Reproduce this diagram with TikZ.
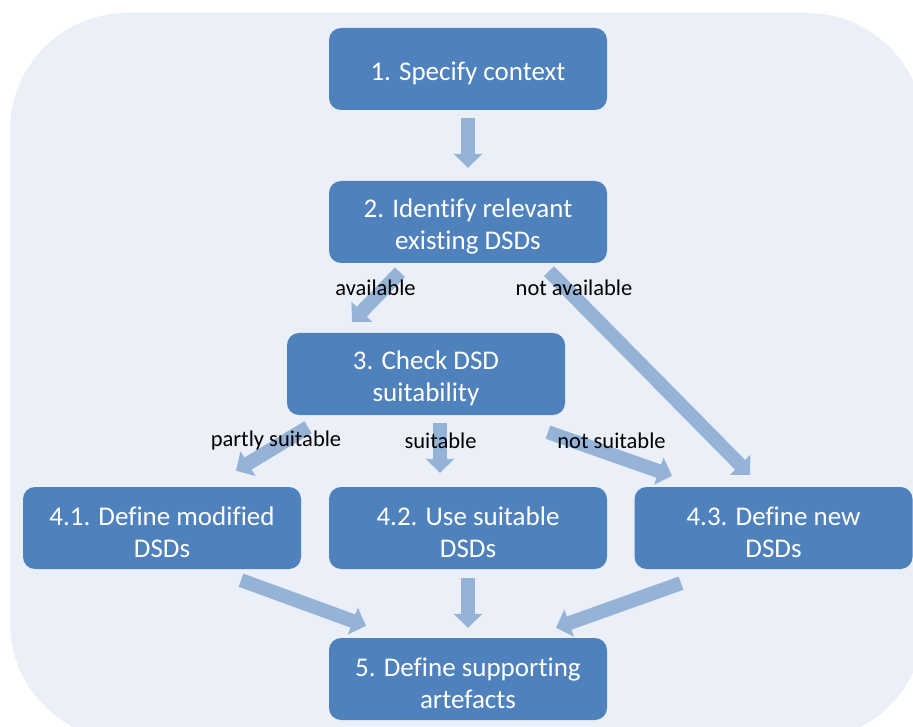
\documentclass[tikz,border=0pt]{standalone}
\usepackage{fontspec}
\setmainfont{Carlito}[Ligatures={NoCommon,NoContextual}, RawFeature={-liga;-clig}]
\usetikzlibrary{arrows.meta,calc}
\definecolor{boxblue}{HTML}{4F81BD}
\definecolor{arrowblue}{HTML}{95B3D7}
\definecolor{bgblue}{HTML}{EBF0F8}
\newcommand{\toppad}{\rule{0pt}{27pt}}
\tikzset{
  stepbox/.style={rectangle, rounded corners=12pt, fill=boxblue, text=white,
    minimum width=278pt, minimum height=82pt, align=center, inner sep=0pt,
    font=\fontsize{27}{32}\selectfont},
  flow/.style={draw=arrowblue, line width=14pt,
    -{Triangle[width=28pt,length=14pt]}, arrowblue},
  lbl/.style={font=\fontsize{22.5}{26}\selectfont, text=black, inner sep=0pt}
}
\begin{document}
\begin{tikzpicture}[x=1pt,y=-1pt]
\useasboundingbox (0,0) rectangle (913,727);
\clip (0,0) rectangle (913,727);
\fill[bgblue, rounded corners=117pt] (10,13) rectangle (924,740);
\node[stepbox] (n1) at (468,69) {\toppad 1. Specify context};
\node[stepbox] (n2) at (468,222) {\toppad 2. Identify relevant\\existing DSDs};
\node[stepbox] (n3) at (426,374) {\toppad 3. Check DSD\\suitability};
\node[stepbox] (n41) at (162,528) {\toppad 4.1. Define modified\\DSDs};
\node[stepbox] (n42) at (468,528) {\toppad 4.2. Use suitable\\DSDs};
\node[stepbox] (n43) at (773.5,528) {\toppad 4.3. Define new\\DSDs};
\node[stepbox] (n5) at (468,679) {\toppad 5. Define supporting\\artefacts};
% connectors
\draw[flow] ($(n1.south)+(0,8)$) -- ($(n2.north)+(0,-13)$);
\draw[flow] ($(n2.south)+(-68,9)$) -- ($(n3.north)+(-74,-11)$);
\draw[flow] ($(n2.south)+(81,8)$) -- ($(n43.north)+(-23.5,-12)$);
\draw[flow] ($(n3.south)+(-118,12)$) -- ($(n41.north)+(74,-16)$);
\draw[flow] ($(n3.south)+(14,8)$) -- ($(n42.north)+(-28,-14)$);
\draw[flow] ($(n3.south)+(122,17)$) -- ($(n43.north)+(-101.5,-11)$);
\draw[flow] ($(n41.south)+(79,11)$) -- ($(n5.north)+(-102,-12)$);
\draw[flow] ($(n42.south)+(0,9)$) -- ($(n5.north)+(0,-10)$);
\draw[flow] ($(n43.south)+(-92.5,14)$) -- ($(n5.north)+(88,-10)$);
% labels
\node[lbl] (l1) at (375.5,288) {available};
\node[lbl] (l2) at (574,288) {not available};
\node[lbl] (l3) at (276,441) {partly suitable};
\node[lbl] (l4) at (440.5,441) {suitable};
\node[lbl] (l5) at (611.5,441) {not suitable};
\end{tikzpicture}
\end{document}
